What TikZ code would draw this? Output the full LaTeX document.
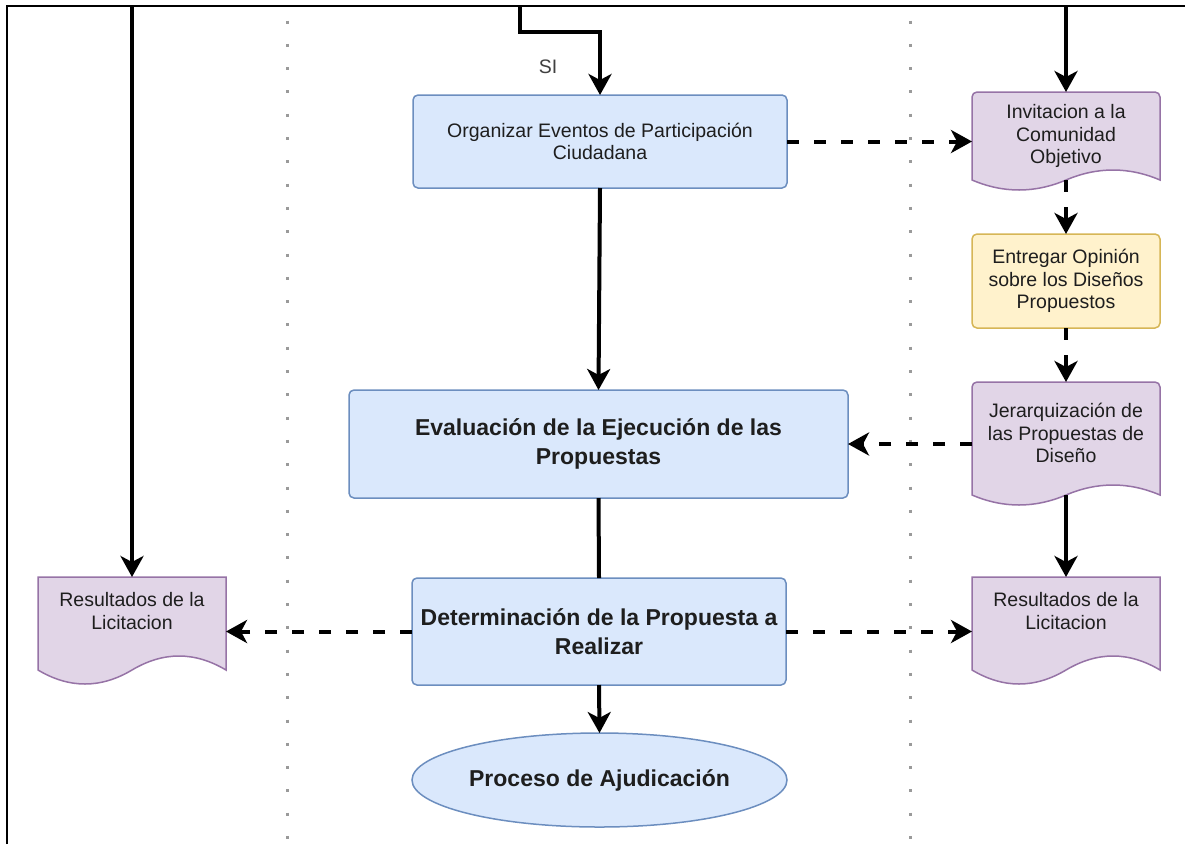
\documentclass[tikz,border=0pt]{standalone}
\usepackage{fontspec}
\setmainfont{Liberation Sans}
\usetikzlibrary{arrows.meta,calc,shapes.geometric,backgrounds}

\definecolor{blueFill}{HTML}{DAE8FC}
\definecolor{blueLine}{HTML}{6C8EBF}
\definecolor{purpleFill}{HTML}{E1D5E7}
\definecolor{purpleLine}{HTML}{9673A6}
\definecolor{yellowFill}{HTML}{FFF2CC}
\definecolor{yellowLine}{HTML}{D6B656}
\definecolor{inkText}{HTML}{1E1E1E}
\definecolor{dotGray}{HTML}{9A9A9A}

% Document symbol: flat top, wavy bottom edge drawn from the node's anchors.
% #1 node name, #2 wave depth, #3 top corner radius, #4 path style
\newcommand\wavydoc[4]{%
  \path[#4] (#1.south west) [rounded corners=#3] -- (#1.north west) -- (#1.north east)
    [sharp corners] -- (#1.south east)
    .. controls ($(#1.south west)!5/6!(#1.south east)+(0,-4/3*#2)$)
           and ($(#1.south west)!2/3!(#1.south east)+(0,-4/3*#2)$) .. (#1.south)
    .. controls ($(#1.south west)!1/3!(#1.south east)+(0,4/3*#2)$)
           and ($(#1.south west)!1/6!(#1.south east)+(0,4/3*#2)$) .. (#1.south west)
    -- cycle;}

\tikzset{
  every node/.style={inner sep=0pt, outer sep=0pt, text=inkText},
  smalltext/.style={font=\fontsize{19.5}{22.5}\selectfont, align=center},
  bigtext/.style={font=\fontsize{23}{29}\selectfont\bfseries, align=center},
  procbox/.style={draw=blueLine, fill=blueFill, line width=1.5pt, rounded corners=5pt},
  notebox/.style={draw=yellowLine, fill=yellowFill, line width=1.5pt, rounded corners=5pt,
                  minimum width=188, minimum height=94},
  endbox/.style={ellipse, draw=blueLine, fill=blueFill, line width=1.5pt},
  docnode/.style={rectangle, minimum width=188},
  docpaint/.style={draw=purpleLine, fill=purpleFill, line width=1.5pt},
  tipstyle/.style={-{Stealth[length=21pt, width=23pt, inset=6pt]}},
  flow/.style={line width=4pt, tipstyle},
  plainflow/.style={line width=4pt},
  dflow/.style={line width=4pt, dash pattern=on 12pt off 15pt, tipstyle},
  frameline/.style={line width=2pt},
  lanedots/.style={dotGray, line width=3pt, dash pattern=on 3pt off 20.3pt},
}

\begin{document}
\begin{tikzpicture}[x=1pt, y=-1pt]
\useasboundingbox (0,0) rectangle (1190,844);

% lane separators and frame
\draw[lanedots] (287,20.5) -- (287,844);
\draw[lanedots] (910,20.5) -- (910,844);
\draw[frameline] (7,844) -- (7,6) -- (1185,6);

% centre lane
\node[procbox, smalltext, minimum width=374, minimum height=93] (orgEvt) at (600,141.5)
  {Organizar Eventos de Participación\\Ciudadana};
\node[procbox, bigtext, minimum width=499, minimum height=108] (evalProp) at (598.5,444)
  {Evaluación de la Ejecución de las\\Propuestas};
\node[procbox, bigtext, minimum width=374, minimum height=107] (detProp) at (599,631.5)
  {Determinación de la Propuesta a\\Realizar};
\node[endbox, bigtext, minimum width=375, minimum height=94] (adjud) at (599.5,780)
  {Proceso de Ajudicación};

% right lane
\node[docnode, minimum height=88, label={[smalltext]center:Invitacion a la\\Comunidad\\Objetivo}]
  (invCom) at (1066,136) {};
\node[notebox, smalltext] (entOp) at (1066,281)
  {Entregar Opinión\\sobre los Diseños\\Propuestos};
\node[docnode, minimum height=113, label={[smalltext, yshift=5.5pt]center:Jerarquización de\\las Propuestas de\\Diseño}]
  (jerProp) at (1066,438.5) {};
\node[docnode, minimum height=93, label={[smalltext, yshift=12.5pt]center:Resultados de la\\Licitacion}]
  (resR) at (1066,623.5) {};

% left lane
\node[docnode, minimum height=93, label={[smalltext, yshift=12.5pt]center:Resultados de la\\Licitacion}]
  (resL) at (132,623.5) {};

% document outlines behind their labels
\begin{scope}[on background layer]
  \wavydoc{invCom}{10}{5pt}{docpaint}
  \wavydoc{jerProp}{10}{5pt}{docpaint}
  \wavydoc{resR}{14}{0pt}{docpaint}
  \wavydoc{resL}{14}{0pt}{docpaint}
\end{scope}

% incoming flows from above
\coordinate (srcL) at (132,6);
\coordinate (srcC) at (520,6);
\coordinate (srcR) at (1066,6);
\draw[flow] (srcL) -- (resL.north);
\draw[flow] (srcC) -- ++(0,26) -| (orgEvt.north);
\node[smalltext, text=black!75] (siLbl) at (548,67) {SI};
\draw[flow] (srcR) -- (invCom.north);

% main sequence
\draw[flow] (orgEvt.south) -- (evalProp.north);
\draw[plainflow] (evalProp.south) -- (detProp.north);
\draw[flow] (detProp.south) -- (adjud.north);

% community lane
\draw[dflow] (orgEvt.east) -- (orgEvt.east -| invCom.west);
\draw[dflow] (invCom.south) -- (entOp.north);
\draw[dflow] (entOp.south) -- (jerProp.north);
\draw[dflow] (evalProp.east -| jerProp.west) -- (evalProp.east);
\draw[flow] (jerProp.south) -- (resR.north);

% results published to both sides
\draw[dflow] (detProp.west) -- (detProp.west -| resL.east);
\draw[dflow] (detProp.east) -- (detProp.east -| resR.west);
\end{tikzpicture}
\end{document}
